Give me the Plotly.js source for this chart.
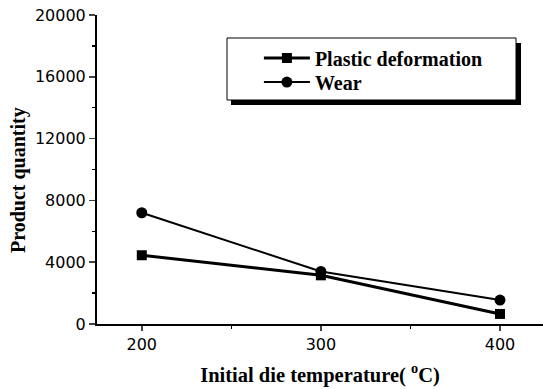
<!DOCTYPE html>
<html><head><meta charset="utf-8">
<script src="https://cdn.plot.ly/plotly-3.0.1.min.js"></script>
<style>html,body{margin:0;padding:0;background:#fff}#c{width:543px;height:389px}</style>
</head><body><div id="c"></div>
<script>
const temps = [200, 300, 400];
const plasticDeformation = [4450, 3150, 650];
const wear = [7200, 3400, 1550];
const yTicks = [0, 4000, 8000, 12000, 16000, 20000];
const yTickLabels = ['0', '4000', '8000', '12000', '16000', '20000'];
const xTicks = [200, 300, 400];
const xTickLabels = ['200', '300', '400'];

const legendFont = {family: 'Liberation Serif', size: 20, color: '#000', weight: 'bold'};
const traces = [
  {x: temps, y: plasticDeformation, name: 'Plastic deformation', mode: 'lines+markers', legend: 'legend',
   line: {color: '#000', width: 3}, marker: {symbol: 'square', size: 10, color: '#000'}},
  {x: temps, y: wear, name: 'Wear', mode: 'lines+markers', legend: 'legend2',
   line: {color: '#000', width: 2}, marker: {symbol: 'circle', size: 11, color: '#000'}}
];
const layout = {
  width: 543, height: 389,
  margin: {l: 97, r: 0, t: 15, b: 65},
  paper_bgcolor: '#fff', plot_bgcolor: '#fff',
  showlegend: true,
  legend: {x: 0.363, y: 0.861, xanchor: 'left', yanchor: 'middle',
    bgcolor: 'rgba(0,0,0,0)', borderwidth: 0, font: legendFont, itemwidth: 46},
  legend2: {x: 0.363, y: 0.783, xanchor: 'left', yanchor: 'middle',
    bgcolor: 'rgba(0,0,0,0)', borderwidth: 0, font: legendFont, itemwidth: 46},
  xaxis: {range: [175, 424], tickvals: xTicks, ticktext: xTickLabels, ticks: 'outside', ticklen: 5, tickwidth: 1.5,
    showline: true, linecolor: '#000', linewidth: 2, showgrid: false, zeroline: false,
    tickfont: {family: 'DejaVu Sans', size: 16, color: '#000'},
    minor: {tickvals: [250, 350], ticks: 'outside', ticklen: 3, tickcolor: '#000'},
    title: {text: 'Initial die temperature( <sup>o</sup>C)', standoff: 14,
      font: {family: 'Liberation Serif', size: 20.5, color: '#000', weight: 'bold'}}},
  yaxis: {range: [0, 20000], tickvals: yTicks, ticktext: yTickLabels, ticks: 'outside', ticklen: 6, tickwidth: 1.5,
    showline: true, linecolor: '#000', linewidth: 2, showgrid: false, zeroline: false,
    tickfont: {family: 'DejaVu Sans', size: 16, color: '#000'},
    minor: {tickvals: [2000, 6000, 10000, 14000, 18000], ticks: 'outside', ticklen: 3, tickcolor: '#000'}},
  annotations: [
    {text: 'Product quantity', xref: 'paper', yref: 'paper', x: -0.177, y: 0.466,
     xanchor: 'center', yanchor: 'middle', textangle: -90, showarrow: false,
     font: {family: 'Liberation Serif', size: 20, color: '#000', weight: 'bold'}}
  ],
  shapes: [
    {type: 'rect', xref: 'paper', yref: 'paper', x0: 0.3004, x1: 0.9507, y0: 0.7087, y1: 0.9094,
     fillcolor: '#000', line: {width: 0}, layer: 'above'},
    {type: 'rect', xref: 'paper', yref: 'paper', x0: 0.2915, x1: 0.9395, y0: 0.7249, y1: 0.9256,
     fillcolor: '#fff', line: {width: 1, color: '#000'}, layer: 'above'}
  ]
};
Plotly.newPlot('c', traces, layout, {staticPlot: true});
</script></body></html>
